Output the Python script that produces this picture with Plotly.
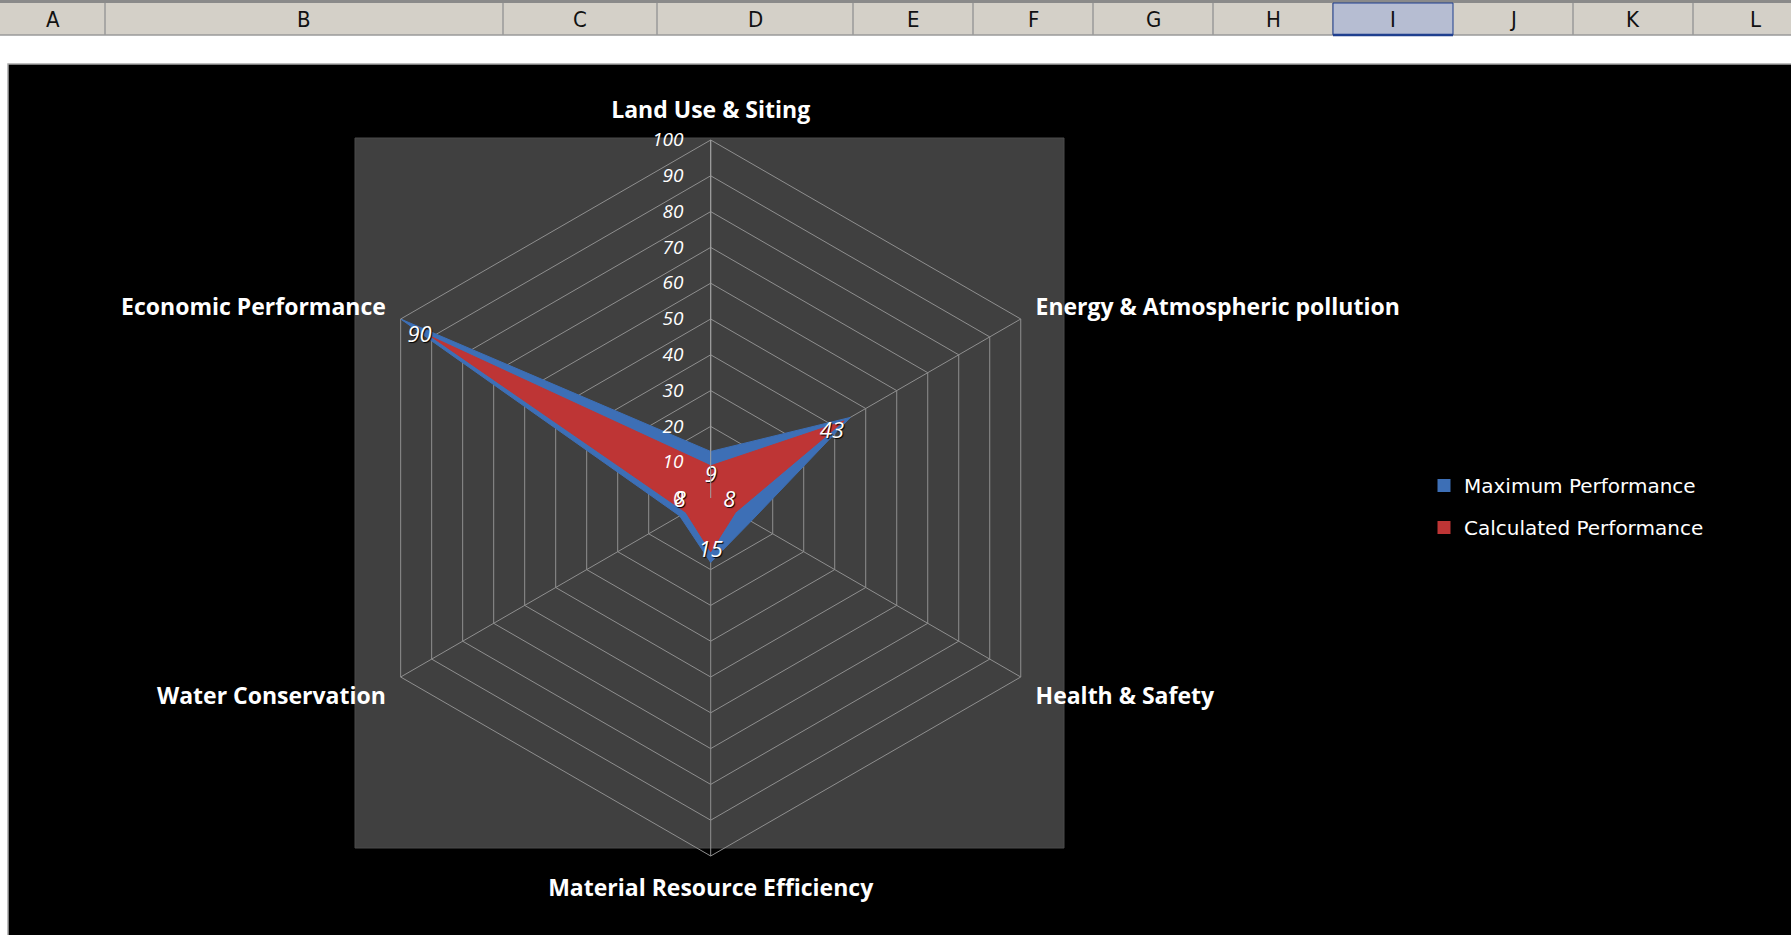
import plotly.graph_objects as go

# ---------------- data ----------------
categories = ["Land Use & Siting", "Energy & Atmospheric pollution", "Health & Safety",
              "Material Resource Efficiency", "Water Conservation", "Economic Performance"]
maximum_perf = [13, 45, 13, 18, 10, 100]
calculated_perf = [9, 43, 8, 15, 8, 90]
label_positions = ["bottom center", "bottom left", "top left", "middle center", "top left", "middle left"]

series_names = ["Maximum Performance", "Calculated Performance"]
series_colors = ["#3D6FB6", "#BE3535"]

column_letters = ["A", "B", "C", "D", "E", "F", "G", "H", "I", "J", "K", "L"]
column_edges = [0, 105, 503, 657, 853, 973, 1093, 1213, 1333, 1453, 1573, 1693, 1813]
selected_column = "I"

W, H = 1791, 935


def px(x):
    return x / W


def py(y):
    return 1 - y / H


def closed(v):
    return list(v) + [v[0]]


fig = go.Figure()

fig.add_trace(go.Scatterpolar(
    r=closed(maximum_perf), theta=closed(categories),
    mode="lines", fill="toself", name=series_names[0],
    line=dict(color=series_colors[0], width=1), fillcolor=series_colors[0],
    showlegend=False,
))
fig.add_trace(go.Scatterpolar(
    r=closed(calculated_perf), theta=closed(categories),
    mode="lines+text", fill="toself", name=series_names[1],
    line=dict(color=series_colors[1], width=1), fillcolor=series_colors[1],
    text=[str(v) for v in calculated_perf] + [""],
    textposition=label_positions + ["middle center"],
    textfont=dict(family="Open Sans", size=22, color="white", style="italic",
                  shadow="1px 1px 1px #000"),
    showlegend=False,
))
# legend entries (square swatches)
for i, (nm, col) in enumerate(zip(series_names, series_colors)):
    fig.add_trace(go.Scatterpolar(
        r=[None], theta=[None], mode="markers", name=nm,
        marker=dict(symbol="square", size=13, color=col),
        legendgroup=str(i), showlegend=True,
    ))

shapes = []
# spreadsheet header
shapes.append(dict(type="rect", xref="paper", yref="paper", x0=0, x1=1, y0=py(35), y1=py(0),
                   fillcolor="#D4D0C8", line=dict(width=0), layer="below"))
shapes.append(dict(type="line", xref="paper", yref="paper", x0=0, x1=1, y0=py(1.5), y1=py(1.5),
                   line=dict(color="#8a8a8a", width=3), layer="below"))
shapes.append(dict(type="line", xref="paper", yref="paper", x0=0, x1=1, y0=py(35), y1=py(35),
                   line=dict(color="#9a9a9a", width=1.5), layer="below"))
for i, letter in enumerate(column_letters):
    x0, x1 = column_edges[i], column_edges[i + 1]
    if letter == selected_column:
        shapes.append(dict(type="rect", xref="paper", yref="paper", x0=px(x0), x1=px(x1),
                           y0=py(35), y1=py(3), fillcolor="#B6BDD2",
                           line=dict(color="#1F3F8F", width=1), layer="below"))
        shapes.append(dict(type="line", xref="paper", yref="paper", x0=px(x0), x1=px(x1),
                           y0=py(35), y1=py(35), line=dict(color="#1F3F8F", width=2.5),
                           layer="below"))
    else:
        shapes.append(dict(type="line", xref="paper", yref="paper", x0=px(x1), x1=px(x1),
                           y0=py(35), y1=py(3), line=dict(color="#9a9a9a", width=1.5),
                           layer="below"))
# chart area (black)
shapes.append(dict(type="rect", xref="paper", yref="paper", x0=px(8), x1=1.01, y0=-0.01, y1=py(64),
                   fillcolor="black", line=dict(color="#a8a8a8", width=1.5), layer="below"))
# plot area (dark gray)
shapes.append(dict(type="rect", xref="paper", yref="paper", x0=px(355), x1=px(1064),
                   y0=py(848), y1=py(138), fillcolor="#404040",
                   line=dict(color="#4a4a4a", width=1), layer="below"))

annotations = []
for i, letter in enumerate(column_letters):
    xc = (column_edges[i] + column_edges[i + 1]) / 2
    if i == len(column_letters) - 1:
        xc = 1755
    annotations.append(dict(x=px(xc), y=py(20), xref="paper", yref="paper", text=letter,
                            showarrow=False, xanchor="center", yanchor="middle",
                            font=dict(family="Liberation Sans Narrow, DejaVu Sans Condensed, DejaVu Sans",
                                      size=22, color="#111111")))

cx, cy, R = 710.7, 498, 358
fig.update_layout(
    width=W, height=H, autosize=False,
    margin=dict(l=0, r=0, t=0, b=0),
    paper_bgcolor="white",
    shapes=shapes,
    annotations=annotations,
    polar=dict(
        domain=dict(x=[px(cx - R), px(cx + R)], y=[py(cy + R), py(cy - R)]),
        bgcolor="rgba(0,0,0,0)",
        gridshape="linear",
        angularaxis=dict(
            direction="clockwise", rotation=90,
            showline=True, linecolor="#8f8f8f", linewidth=1,
            gridcolor="#8f8f8f", gridwidth=1,
            ticks="outside", ticklen=12, tickcolor="rgba(0,0,0,0)",
            tickfont=dict(family="Open Sans", size=23, color="white", weight="bold"),
        ),
        radialaxis=dict(
            range=[0, 100], dtick=10, angle=90, tickangle=90,
            side="counterclockwise",
            showline=True, linecolor="#a0a0a0", linewidth=1,
            gridcolor="#8f8f8f", gridwidth=1,
            ticks="outside", ticklen=20, tickcolor="rgba(0,0,0,0)",
            tickfont=dict(family="Open Sans", size=19, color="white", style="italic"),
        ),
    ),
    legend=dict(
        x=px(1424), y=py(466), xanchor="left", yanchor="top",
        bgcolor="rgba(0,0,0,0)", tracegroupgap=13, traceorder="grouped",
        font=dict(family="DejaVu Sans", size=20, color="white"),
    ),
    showlegend=True,
)

fig.write_html("out.html", config={"displayModeBar": False},
               post_script="document.body.style.margin='0';document.body.style.overflow='hidden';")
